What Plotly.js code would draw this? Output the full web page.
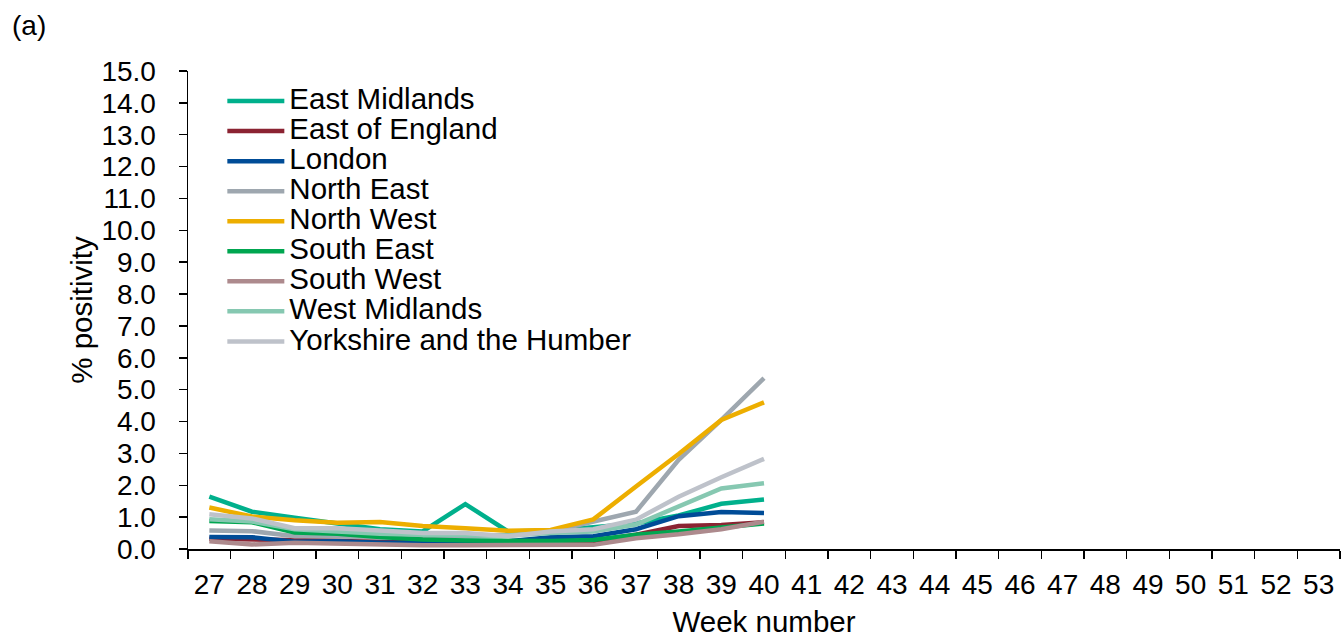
<!DOCTYPE html>
<html>
<head>
<meta charset="utf-8">
<script src="https://cdn.plot.ly/plotly-3.0.1.min.js"></script>
<style>html,body{margin:0;padding:0;background:#fff;}#chart{width:1341px;height:638px;}</style>
</head>
<body>
<div id="chart"></div>
<script>
const allWeeks = ["27","28","29","30","31","32","33","34","35","36","37","38","39","40","41","42","43","44","45","46","47","48","49","50","51","52","53"];
const weeks = ["27","28","29","30","31","32","33","34","35","36","37","38","39","40"];

const eastMidlands = [1.64,1.17,0.98,0.80,0.62,0.55,1.41,0.55,0.58,0.68,0.80,1.05,1.42,1.55];
const eastOfEngland = [0.32,0.30,0.28,0.25,0.22,0.20,0.20,0.18,0.20,0.25,0.45,0.72,0.75,0.84];
const london = [0.38,0.37,0.23,0.24,0.20,0.20,0.25,0.24,0.37,0.40,0.62,1.03,1.16,1.13];
const northEast = [0.58,0.56,0.40,0.40,0.35,0.35,0.40,0.45,0.55,0.86,1.17,2.80,4.05,5.36];
const northWest = [1.30,1.02,0.90,0.82,0.85,0.72,0.65,0.57,0.60,0.93,1.96,2.98,4.05,4.60];
const southEast = [0.88,0.84,0.52,0.48,0.38,0.30,0.27,0.25,0.25,0.28,0.45,0.55,0.68,0.80];
const southWest = [0.24,0.14,0.20,0.17,0.14,0.12,0.12,0.12,0.12,0.13,0.34,0.46,0.62,0.86];
const westMidlands = [0.93,0.86,0.62,0.55,0.48,0.45,0.45,0.42,0.50,0.55,0.77,1.33,1.90,2.06];
const yorkshire = [1.09,0.96,0.65,0.65,0.58,0.50,0.50,0.40,0.55,0.62,0.92,1.64,2.25,2.83];

const seriesNames = ["East Midlands","East of England","London","North East","North West","South East","South West","West Midlands","Yorkshire and the Humber"];
const seriesValues = [eastMidlands,eastOfEngland,london,northEast,northWest,southEast,southWest,westMidlands,yorkshire];
const colors = ["#00B08C","#8B2332","#004C97","#9EA7AF","#EDAE00","#00A650","#AD8A8D","#86C8B1","#BEC2CA"];

const traces = seriesNames.map((n,i)=>({
  type:'scatter', mode:'lines', name:'<span style="font-size:29.5px">'+n+'</span>',
  x:weeks, y:seriesValues[i],
  line:{color:colors[i], width:4.5}
}));
const yTicks = [];
for (let v=0; v<=15; v++) yTicks.push(v);

const layout = {
  width:1341, height:638,
  margin:{l:188, r:1, t:71, b:89},
  paper_bgcolor:'#fff', plot_bgcolor:'#fff',
  font:{family:'Liberation Sans, Arial, sans-serif', size:28, color:'#000'},
  showlegend:true,
  legend:{x:0.0298, y:0.979, xanchor:'left', yanchor:'top', bgcolor:'rgba(0,0,0,0)',
          font:{size:20.8}, tracegroupgap:0, itemwidth:57, traceorder:'normal'},
  xaxis:{type:'category', categoryorder:'array', categoryarray:allWeeks,
         range:[-0.5,26.5], tickson:'boundaries', ticks:'outside', ticklen:8, tickwidth:1.5, tickcolor:'#000',
         showline:true, linecolor:'#000', linewidth:1.5, showgrid:false, zeroline:false,
         ticklabelstandoff:10,
         title:{text:'Week number', font:{size:29.5}, standoff:17}},
  yaxis:{range:[0,15], tickvals:yTicks, ticktext:yTicks.map(v=>v.toFixed(1)),
         ticks:'outside', ticklen:8, tickwidth:1.5, tickcolor:'#000',
         showline:true, linecolor:'#000', linewidth:1.5, showgrid:false, zeroline:false,
         ticklabelstandoff:17,
         title:{text:'% positivity', font:{size:29.5}, standoff:0}},
  annotations:[{text:'(a)', xref:'paper', yref:'paper', x:-0.1544, y:1.096, xanchor:'left', yanchor:'middle',
                showarrow:false, font:{size:28}}]
};
Plotly.newPlot('chart', traces, layout, {displayModeBar:false, staticPlot:true});
</script>
</body>
</html>
